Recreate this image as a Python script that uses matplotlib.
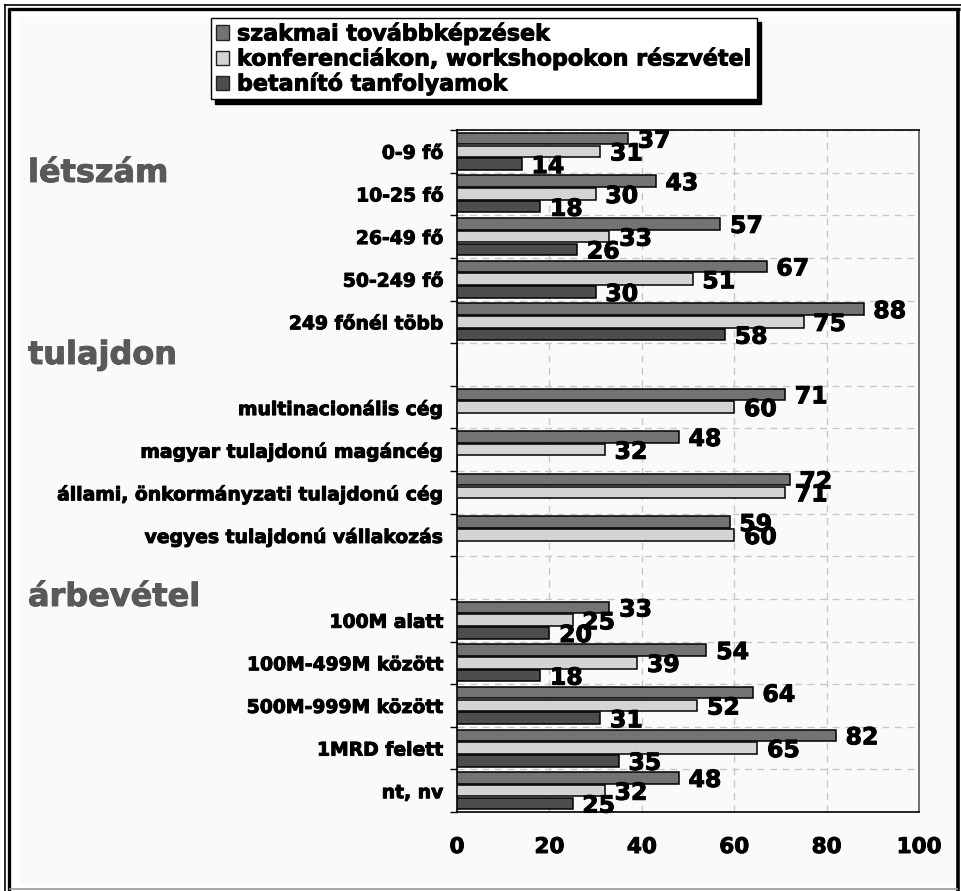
import numpy as np
import matplotlib
matplotlib.use('Agg')
import matplotlib.pyplot as plt
import matplotlib.patheffects as pe
from matplotlib.patches import Rectangle, Patch
from matplotlib.lines import Line2D

plt.rcParams['font.family'] = ['DejaVu Sans']
plt.rcParams['font.weight'] = 'bold'

# sorok fentrol lefele, ures sor = csoport cim helye
categories = ['0-9 fő', '10-25 fő', '26-49 fő', '50-249 fő', '249 főnél több', '',
              'multinacionális cég', 'magyar tulajdonú magáncég',
              'állami, önkormányzati tulajdonú cég', 'vegyes tulajdonú vállakozás', '',
              '100M alatt', '100M-499M között', '500M-999M között', '1MRD felett', 'nt, nv']
szakmai = [37, 43, 57, 67, 88, None, 71, 48, 72, 59, None, 33, 54, 64, 82, 48]
konferencia = [31, 30, 33, 51, 75, None, 60, 32, 71, 60, None, 25, 39, 52, 65, 32]
betanito = [14, 18, 26, 30, 58, None, None, None, None, None, None, 20, 18, 31, 35, 25]
series_names = ['szakmai továbbképzések', 'konferenciákon, workshopokon részvétel',
                'betanító tanfolyamok']
colors = ['#737373', '#d4d4d4', '#4d4d4d']
groups = ['létszám', 'tulajdon', 'árbevétel']
group_y = [182, 364, 606]  # baseline, pixel from top
xticks = [0, 20, 40, 60, 80, 100]

W, H = 962, 891
fig = plt.figure(figsize=(W / 100, H / 100), dpi=100, facecolor='white')
heavy = [pe.withStroke(linewidth=0.7, foreground='black')]

# keret
fig.add_artist(Rectangle((19 / W, 1 - 885 / H), (955 - 19) / W, (885 - 17) / H,
                         transform=fig.transFigure, facecolor='#fafafa', edgecolor='none', zorder=0))
def fline(x0, y0, x1, y1, lw, c='black'):
    fig.add_artist(Line2D([x0 / W, x1 / W], [1 - y0 / H, 1 - y1 / H],
                          transform=fig.transFigure, color=c, lw=lw, solid_capstyle='butt'))
fline(4, 4.5, W, 4.5, 1.2)
fline(4.5, 4, 4.5, H, 1.2)
fline(8, 9, 960, 9, 2.4)
fline(9, 8, 9, H, 2.4)
fline(958.5, 8, 958.5, H, 2.6)
fline(9, 889, 958, 889, 1.2, '#9a9a9a')

ax = fig.add_axes([457 / W, 1 - 812 / H, (919 - 457) / W, (812 - 130) / H])
ax.set_facecolor('none')

n = len(categories)
y = np.arange(n) + 0.5
offs = [-0.3, 0.0, 0.3]
for k, vals in enumerate([szakmai, konferencia, betanito]):
    v = np.array([np.nan if a is None else a for a in vals], dtype=float)
    yy = y + offs[k]
    ax.barh(yy, np.nan_to_num(v), height=0.27, color=colors[k], edgecolor='black',
            linewidth=1.1, zorder=3)
    for yi, vi in zip(yy, v):
        if not np.isnan(vi):
            ax.annotate(f'{int(vi)}', (vi, yi), xytext=(7, -1.5), textcoords='offset points',
                        ha='left', va='center', fontsize=17, fontweight='bold', zorder=4,
                        path_effects=heavy)

ax.set_xlim(0, 100)
ax.set_ylim(n, 0)
ax.set_xticks(xticks)
ax.set_xticklabels([str(t) for t in xticks], fontsize=15.5, fontweight='bold')
ax.tick_params(axis='x', length=0, pad=18)
ax.set_yticks(np.arange(n + 1))
ax.set_yticklabels([])
ax.tick_params(axis='y', which='major', length=5, width=1, direction='out')
ax.set_yticks(y, minor=True)
ax.set_yticklabels(categories, minor=True, fontsize=13.5, fontweight='bold')
ax.tick_params(axis='y', which='minor', length=0, pad=10)
for t in ax.get_xticklabels() + ax.get_yticklabels(minor=True):
    t.set_path_effects(heavy)

ax.grid(axis='x', color='#c8c8c8', linestyle=(0, (5, 4)), linewidth=1, zorder=0)
ax.grid(axis='y', which='major', color='#c8c8c8', linestyle=(0, (5, 4)), linewidth=1, zorder=0)
for s in ax.spines.values():
    s.set_color('black')
    s.set_linewidth(1.2)
ax.spines['right'].set_color('#555555')

for g, gy in zip(groups, group_y):
    fig.text(28 / W, 1 - gy / H, g, fontsize=23, fontweight='bold', color='#595959',
             ha='left', va='baseline',
             path_effects=[pe.withStroke(linewidth=0.7, foreground='#595959')])

handles = [Patch(facecolor=c, edgecolor='#222222', linewidth=1) for c in colors]
leg = fig.legend(handles, series_names, loc='upper left', bbox_to_anchor=(211 / W, 1 - 18 / H),
                 prop={'size': 16, 'weight': 'bold'}, frameon=True, fancybox=False,
                 edgecolor='black', facecolor='white', framealpha=1,
                 shadow={'color': 'black', 'alpha': 1, 'ox': 3, 'oy': -3},
                 handlelength=0.6, handleheight=0.6, handletextpad=0.35,
                 labelspacing=0.16, borderpad=0.22, borderaxespad=0)
leg.get_frame().set_linewidth(1.0)
for t in leg.get_texts():
    t.set_path_effects(heavy)

fig.savefig('out.png', dpi=100, facecolor=fig.get_facecolor())
